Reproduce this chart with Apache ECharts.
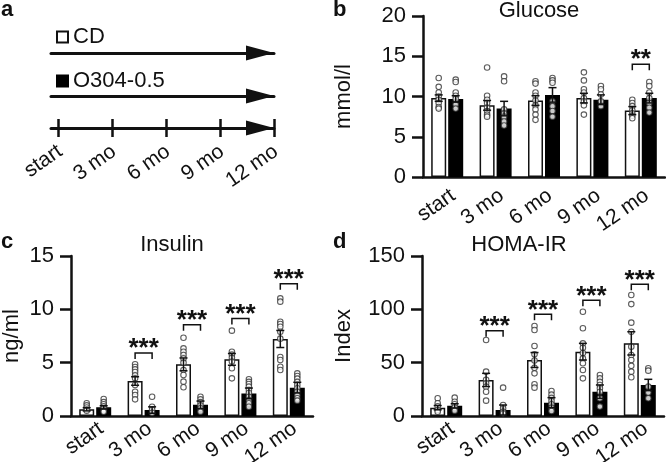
<!DOCTYPE html>
<html><head><meta charset="utf-8">
<script src="https://cdn.jsdelivr.net/npm/echarts@6/dist/echarts.min.js"></script>
<style>html,body{margin:0;padding:0;background:#fff}#c{width:666px;height:462px}</style>
</head><body><div id="c"></div><script>
// ---------- data ----------
const categories = ['start', '3 mo', '6 mo', '9 mo', '12 mo'];
const timelineValues = [0, 3, 6, 9, 12];
const timelineLabels = ['start', '3 mo', '6 mo', '9 mo', '12 mo'];
const groupNames = ['CD', 'O304-0.5'];

const glucoseCDMean = [9.8, 8.9, 9.5, 9.8, 8.25];
const glucoseCDSem = [0.4, 0.6, 0.6, 0.6, 0.5];
const glucoseO304Mean = [9.7, 8.5, 10.2, 9.6, 9.8];
const glucoseO304Sem = [0.4, 0.9, 0.9, 0.6, 0.6];
const glucoseCDPoints = [
  [12.3, 11.2, 10.5, 10.0, 9.6, 9.2, 8.7, 8.5],
  [13.6, 10.1, 9.6, 9.2, 8.6, 8.2, 7.75, 7.5],
  [11.9, 11.6, 10.5, 10.1, 9.5, 8.9, 8.4, 7.75, 7.1],
  [13.0, 12.0, 10.9, 10.5, 9.8, 9.4, 8.9, 7.75],
  [9.6, 9.2, 8.8, 8.3, 7.9, 7.6, 7.3]
];
const glucoseO304Points = [
  [12.1, 11.8, 10.5, 10.1, 9.7, 9.0, 8.5],
  [12.5, 11.9, 8.4, 7.9, 7.5, 6.9, 6.4],
  [12.3, 12.0, 11.7, 9.4, 8.8, 8.2, 7.5],
  [11.3, 10.9, 10.25, 9.4, 8.8],
  [11.8, 11.3, 10.5, 9.8, 9.2, 8.6, 8.0]
];
const glucoseSigCats = [4];
const glucoseSigLevels = [14.0];
const glucoseSigText = ['**'];

const insulinCDMean = [0.63, 3.28, 4.84, 5.31, 7.22];
const insulinCDSem = [0.15, 0.4, 0.6, 0.55, 0.8];
const insulinO304Mean = [0.81, 0.56, 1.05, 2.12, 2.66];
const insulinO304Sem = [0.15, 0.3, 0.35, 0.5, 0.5];
const insulinCDPoints = [
  [1.2, 1.0, 0.8, 0.6, 0.5],
  [4.85, 4.6, 4.37, 4.12, 3.81, 3.53, 2.9, 2.28, 1.97, 1.56],
  [7.34, 6.34, 6.03, 5.72, 5.4, 5.0, 4.31, 3.84, 3.22, 2.69],
  [8.0, 6.03, 5.75, 5.45, 5.1, 4.47, 3.53],
  [11.03, 10.72, 8.84, 8.62, 8.37, 7.9, 7.25, 5.53, 5.25, 4.62, 4.31]
];
const insulinO304Points = [
  [1.6, 1.3, 1.1, 0.9, 0.7, 0.5, 0.4],
  [1.81, 0.87, 0.6, 0.31],
  [1.81, 1.56, 1.3, 1.0, 0.72, 0.41],
  [3.44, 3.2, 3.0, 2.75, 2.44, 2.15, 1.81, 1.5, 1.19, 0.87],
  [4.0, 3.75, 3.5, 3.2, 2.9, 2.6, 2.28, 1.95, 1.66, 1.44]
];
const insulinSigCats = [1, 2, 3, 4];
const insulinSigLevels = [5.9, 8.55, 9.15, 12.4];
const insulinSigText = ['***', '***', '***', '***'];

const homaCDMean = [7.8, 33.8, 52.5, 60.3, 68.1];
const homaCDSem = [2, 6.2, 7, 7.8, 10.9];
const homaO304Mean = [9.5, 5.6, 12.5, 22.8, 29.1];
const homaO304Sem = [2, 4.7, 4.7, 6.3, 5.3];
const homaCDPoints = [
  [16.6, 11.9, 9, 5.6, 4],
  [71.3, 41.6, 34, 30.6, 27.5, 22.8, 14.4],
  [84.4, 80.6, 65.6, 57.8, 52, 45.3, 40, 29.7, 26.6],
  [97.8, 82.2, 68.1, 64, 59, 54, 49.4, 43.1, 35.3],
  [113.4, 104.9, 87.5, 79, 65, 57.2, 52.5, 47, 41.6, 36.3]
];
const homaO304Points = [
  [17.2, 13.4, 11, 8, 5],
  [26.6, 10.3, 7, 4.1, 2.5],
  [23.4, 20, 17, 14, 11, 7.8, 4.7],
  [38.4, 35.3, 32, 29, 26, 22.8, 16.6, 8.8],
  [44.7, 42.5, 27.5, 22, 16.6]
];
const homaSigCats = [1, 2, 3, 4];
const homaSigLevels = [80, 95.3, 108.4, 123.4];
const homaSigText = ['***', '***', '***', '***'];

// ---------- styling ----------
const FONT = '"Liberation Sans", Arial, Helvetica, sans-serif';
const INK = '#111';
const BAR_W = 15, BAR_GAP = 2;
const OFF = (BAR_W + BAR_GAP) / 2;
const FS = 22;
const XFS = 21;

function flatten(arr) {
  const out = [];
  arr.forEach((vals, i) => vals.forEach(v => out.push([i, v])));
  return out;
}

const panels = [
  { title: 'Glucose', yName: 'mmol/l', nameGap: 68, max: 20, interval: 5, labelMargin: 8,
    grid: { left: 423, top: 16, width: 242, height: 161 },
    cdMean: glucoseCDMean, cdSem: glucoseCDSem, oMean: glucoseO304Mean, oSem: glucoseO304Sem,
    cdPts: glucoseCDPoints, oPts: glucoseO304Points,
    sigCats: glucoseSigCats, sigLevels: glucoseSigLevels, sigText: glucoseSigText },
  { title: 'Insulin', yName: 'ng/ml', nameGap: 48, max: 15, interval: 5, labelMargin: 2,
    grid: { left: 71, top: 256, width: 242, height: 160 },
    cdMean: insulinCDMean, cdSem: insulinCDSem, oMean: insulinO304Mean, oSem: insulinO304Sem,
    cdPts: insulinCDPoints, oPts: insulinO304Points,
    sigCats: insulinSigCats, sigLevels: insulinSigLevels, sigText: insulinSigText },
  { title: 'HOMA-IR', yName: 'Index', nameGap: 67, max: 150, interval: 50, labelMargin: 2,
    grid: { left: 422, top: 256, width: 242, height: 160 },
    cdMean: homaCDMean, cdSem: homaCDSem, oMean: homaO304Mean, oSem: homaO304Sem,
    cdPts: homaCDPoints, oPts: homaO304Points,
    sigCats: homaSigCats, sigLevels: homaSigLevels, sigText: homaSigText }
];

const grids = [{ left: 51, top: 53, width: 223, height: 43, outerBoundsMode: 'none' }];
const xAxes = [];
const yAxes = [{ gridIndex: 0, type: 'value', min: 0, max: 1, show: false }];
const series = [];

// ---------- panel a : schematic timeline ----------
const arrowLine = {
  show: true, onZero: false, symbol: ['none', 'triangle'], symbolSize: [15, 28], symbolOffset: [0, -14],
  lineStyle: { color: INK, width: 3 }
};
const baseA = { gridIndex: 0, type: 'value', min: -0.4, max: 12, splitLine: { show: false },
  axisLabel: { show: false }, axisTick: { show: false } };
xAxes.push(Object.assign({}, baseA, { position: 'top', axisLine: arrowLine }));
xAxes.push(Object.assign({}, baseA, { position: 'bottom', axisLine: arrowLine }));
xAxes.push(Object.assign({}, baseA, {
  position: 'bottom', offset: 32, axisLine: arrowLine,
  axisTick: { show: true, customValues: timelineValues, length: 9, lineStyle: { color: INK, width: 2.5 } },
  axisLabel: { show: true, customValues: timelineValues, rotate: 35, margin: 10, verticalAlign: 'top',
    padding: [0, 5, 0, 0],
    formatter: v => timelineLabels[timelineValues.indexOf(v)],
    fontSize: XFS, fontFamily: FONT, color: INK }
}));
xAxes.push(Object.assign({}, baseA, {
  position: 'bottom', offset: 32, axisLine: { show: false, onZero: false },
  axisTick: { show: true, inside: true, customValues: timelineValues, length: 9, lineStyle: { color: INK, width: 2.5 } }
}));

// ---------- bar panels ----------
function errRender(off) {
  return function (params, api) {
    const c = api.value(0), m = api.value(1), s = api.value(2);
    const t = api.coord([c, m + s]);
    const b = api.coord([c, m - s]);
    const x = t[0] + off;
    const st = { stroke: INK, lineWidth: 1.5 };
    return { type: 'group', children: [
      { type: 'line', shape: { x1: x, y1: t[1], x2: x, y2: b[1] }, style: st },
      { type: 'line', shape: { x1: x - 4, y1: t[1], x2: x + 4, y2: t[1] }, style: st },
      { type: 'line', shape: { x1: x - 4, y1: b[1], x2: x + 4, y2: b[1] }, style: st }
    ] };
  };
}

panels.forEach((p, k) => {
  const gi = k + 1;
  grids.push(Object.assign({ outerBoundsMode: 'none' }, p.grid));
  const xi = xAxes.length, yi = yAxes.length;
  xAxes.push({
    gridIndex: gi, type: 'category', data: categories,
    axisLine: { lineStyle: { color: INK, width: 2.5 } },
    axisTick: { show: false },
    axisLabel: { rotate: 35, margin: p.labelMargin, verticalAlign: 'top', fontSize: XFS, fontFamily: FONT,
      color: INK, interval: 0 }
  });
  yAxes.push({
    gridIndex: gi, type: 'value', min: 0, max: p.max, interval: p.interval,
    name: p.yName, nameLocation: 'middle', nameRotate: 90, nameGap: p.nameGap,
    nameTextStyle: { fontSize: FS, fontFamily: FONT, color: INK },
    axisLine: { show: true, lineStyle: { color: INK, width: 2.5 } },
    axisTick: { show: true, length: 11, lineStyle: { color: INK, width: 2.5 } },
    axisLabel: { margin: 17, fontSize: FS, fontFamily: FONT, color: INK },
    splitLine: { show: false }
  });
  series.push({ type: 'bar', name: groupNames[0], xAxisIndex: xi, yAxisIndex: yi, data: p.cdMean,
    barWidth: BAR_W, barGap: (BAR_GAP / BAR_W * 100) + '%',
    itemStyle: { color: '#fff', borderColor: INK, borderWidth: 1.5 }, z: 2, silent: true });
  series.push({ type: 'bar', name: groupNames[1], xAxisIndex: xi, yAxisIndex: yi, data: p.oMean,
    barWidth: BAR_W, barGap: (BAR_GAP / BAR_W * 100) + '%',
    itemStyle: { color: '#000', borderColor: '#000', borderWidth: 1.5 }, z: 2, silent: true });
  const dotStyle = { color: '#fff', borderColor: '#333', borderWidth: 1.1 };
  series.push({ type: 'scatter', xAxisIndex: xi, yAxisIndex: yi, data: flatten(p.cdPts),
    symbol: 'circle', symbolSize: 5.5, symbolOffset: [-OFF, 0], itemStyle: dotStyle, z: 3, silent: true });
  series.push({ type: 'scatter', xAxisIndex: xi, yAxisIndex: yi, data: flatten(p.oPts),
    symbol: 'circle', symbolSize: 5.5, symbolOffset: [OFF, 0], itemStyle: dotStyle, z: 3, silent: true });
  series.push({ type: 'custom', xAxisIndex: xi, yAxisIndex: yi, renderItem: errRender(-OFF),
    data: p.cdMean.map((m, i) => [i, m, p.cdSem[i]]), encode: { x: 0, y: 1 }, z: 4, silent: true });
  series.push({ type: 'custom', xAxisIndex: xi, yAxisIndex: yi, renderItem: errRender(OFF),
    data: p.oMean.map((m, i) => [i, m, p.oSem[i]]), encode: { x: 0, y: 1 }, z: 4, silent: true });
  series.push({ type: 'custom', xAxisIndex: xi, yAxisIndex: yi, z: 5, silent: true,
    data: p.sigCats.map((c, i) => [c, p.sigLevels[i]]), encode: { x: 0, y: 1 },
    renderItem: function (params, api) {
      const pt = api.coord([api.value(0), api.value(1)]);
      const x = pt[0], y = pt[1];
      return { type: 'group', children: [
        { type: 'polyline', shape: { points: [[x - OFF, y + 6], [x - OFF, y], [x + OFF, y], [x + OFF, y + 6]] },
          style: { stroke: INK, lineWidth: 1.5, fill: null } },
        { type: 'text', x: x, y: y - 4,
          style: { text: p.sigText[params.dataIndex], fill: INK, fontSize: 26, fontWeight: 'bold',
            fontFamily: FONT, align: 'center', verticalAlign: 'middle' } }
      ] };
    } });
});

const txt = (x, y, s, o) => ({ type: 'text', x: x, y: y,
  style: Object.assign({ text: s, fill: INK, fontFamily: FONT, fontSize: FS }, o || {}) });

const option = {
  animation: false,
  backgroundColor: '#fff',
  grid: grids, xAxis: xAxes, yAxis: yAxes, series: series,
  legend: {
    data: groupNames, orient: 'vertical', left: 51, top: 21, icon: 'rect',
    itemWidth: 11, itemHeight: 11, itemGap: 22, selectedMode: false,
    textStyle: { fontSize: FS, fontFamily: FONT, color: INK }
  },
  graphic: [
    txt(1, -1, 'a', { fontWeight: 'bold', verticalAlign: 'top' }),
    txt(333, -1, 'b', { fontWeight: 'bold', verticalAlign: 'top' }),
    txt(1, 231, 'c', { fontWeight: 'bold', verticalAlign: 'top' }),
    txt(333, 231, 'd', { fontWeight: 'bold', verticalAlign: 'top' }),
    txt(539, 11, panels[0].title, { align: 'center', verticalAlign: 'middle' }),
    txt(172, 245, panels[1].title, { align: 'center', verticalAlign: 'middle' }),
    txt(519, 245, panels[2].title, { align: 'center', verticalAlign: 'middle' })
  ]
};

const chart = echarts.init(document.getElementById('c'), null, { renderer: 'canvas' });
chart.setOption(option);
</script></body></html>
